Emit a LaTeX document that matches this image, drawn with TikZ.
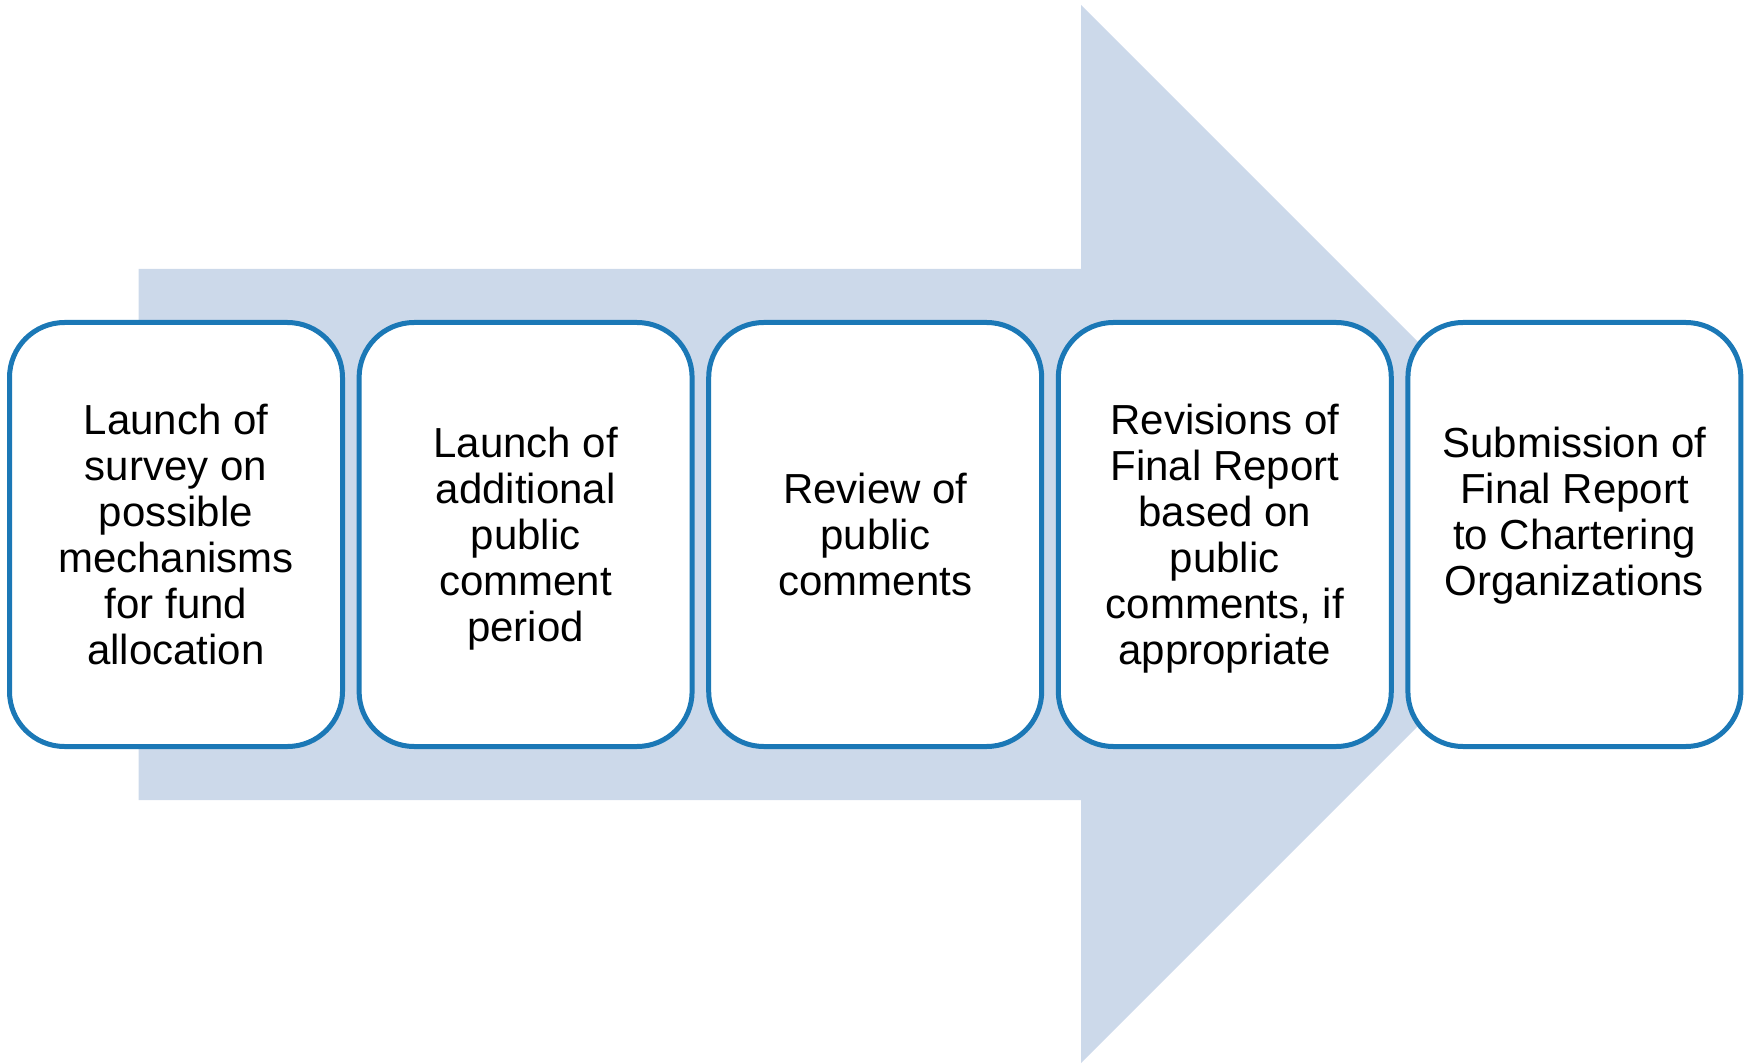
\documentclass[tikz,border=0pt]{standalone}
\usepackage{fontspec}
\setmainfont{Liberation Sans}
\definecolor{arrowfill}{HTML}{CCD9EA}
\definecolor{boxblue}{HTML}{1B78B6}
\begin{document}
\begin{tikzpicture}[x=1pt,y=-1pt,
  stepbox/.style={draw=boxblue, line width=5pt, fill=white, rounded corners=55pt,
    minimum width=333pt, minimum height=424pt, inner sep=0pt},
  txt/.style={align=center, font=\fontsize{42}{46}\selectfont, inner sep=0pt, yshift=-5.3pt}]
\useasboundingbox (0,0) rectangle (1746,1064);
\fill[arrowfill] (138.7,269) -- (1081,269) -- (1081,5) -- (1610,534) -- (1081,1063) -- (1081,800) -- (138.7,800) -- cycle;
\node[stepbox] (b1) at (176,534.5) {};
\node[stepbox] (b2) at (525.6,534.5) {};
\node[stepbox] (b3) at (875.2,534.5) {};
\node[stepbox] (b4) at (1224.8,534.5) {};
\node[stepbox] (b5) at (1574.4,534.5) {};
\node[txt] (t1) at (b1.center) {\strut Launch of\\survey on\\possible\\mechanisms\\for fund\\allocation\strut};
\node[txt] (t2) at (b2.center) {\strut Launch of\\additional\\public\\comment\\period\strut};
\node[txt] (t3) at (b3.center) {\strut Review of\\public\\comments\strut};
\node[txt] (t4) at (b4.center) {\strut Revisions of\\Final Report\\based on\\public\\comments, if\\appropriate\strut};
\node[txt, yshift=23pt] (t5) at (b5.center) {\strut Submission of\\Final Report\\to Chartering\\Organizations\strut};
\end{tikzpicture}
\end{document}
